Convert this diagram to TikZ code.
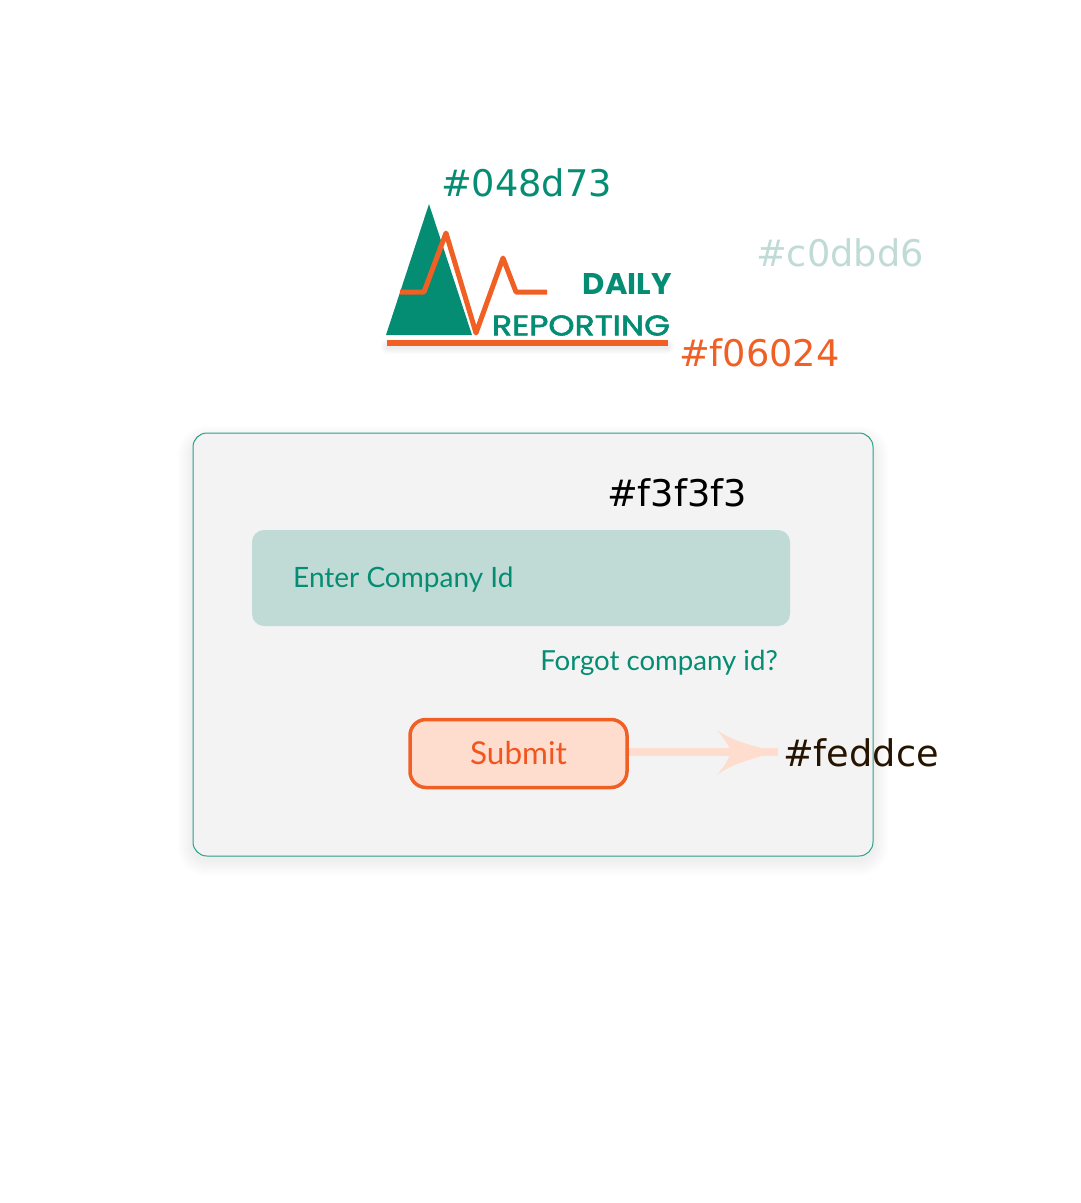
\documentclass[tikz,border=0pt]{standalone}
\usepackage{fontspec}
\setmainfont{DejaVu Sans}
\newfontfamily\uifont{Lato}
\newfontfamily\logofont{Poppins}
\usetikzlibrary{
    positioning
}
\definecolor{logogreen}{HTML}{048D73}
\definecolor{logoorange}{HTML}{F06024}
\definecolor{inputfill}{HTML}{C0DBD6}
\definecolor{cardfill}{HTML}{F3F3F3}
\definecolor{submitfill}{HTML}{FEDDCE}
\tikzset{
    swatch/.style={
        inner sep=0pt,
        font=\fontsize{36.7}{40}\selectfont,
        anchor=west
    },
    uitext/.style={
        inner sep=0pt,
        text=logogreen,
        font=\uifont\fontsize{28}{32}\selectfont
    },
    logotext/.style={
        inner sep=0pt,
        text=logogreen,
        font=\logofont
    }
}

\begin{document}
\begin{tikzpicture}[
    x=1pt,
    y=-1pt
]
    \useasboundingbox (0,0) rectangle (1080,1203);

    % Card
    \foreach \grow in {1,...,16}
        \fill[black, opacity=0.005, rounded corners=14+\grow]
            (193-\grow,441-\grow) rectangle (873+\grow,860+\grow);
    \fill[cardfill, rounded corners=14] (193,433) rectangle (873,856);

    % Logo
    \foreach \grow in {1,...,6}
        \fill[black, opacity=0.012, rounded corners=\grow]
            (387-\grow,345-\grow) rectangle (668+\grow,348+\grow);
    \fill[logogreen] (429,204) -- (472,335) -- (386,335) -- cycle;
    \draw[logoorange, line width=5pt, line join=round]
        (400,292) -- (424,292) -- (446,233) -- (476,333)
        -- (503,258) -- (516,292) -- (547,292);
    \fill[logoorange] (387,340) rectangle (668,346);
    \node[logotext, font=\logofont\bfseries] (daily) at (627.5,284)
        {\resizebox{89pt}{21pt}{DAILY}};
    \node[logotext, font=\logofont\addfontfeature{FakeBold=2}] (reporting) at (581,325.5)
        {\resizebox{178pt}{20pt}{REPORTING}};

    % Colours
    \node[swatch, text=logogreen]  (green)  at (441,183) {\#048d73};
    \node[swatch, text=inputfill]  (pale)   at (756,253) {\#c0dbd6};
    \node[swatch, text=logoorange] (orange) at (679,353) {\#f06024};
    \node[swatch, text=black]      (grey)   at (607,493) {\#f3f3f3};
    \node[swatch, text=black!85!orange] (peach) at (783,753) {\#feddce};

    % Form
    \node[fill=inputfill, rounded corners=12, minimum width=538pt,
        minimum height=96pt, inner sep=0pt] (input) at (521,578) {};
    \node[uitext, anchor=west] (enter) at (293,580) {Enter Company Id};
    \node[uitext, anchor=east, font=\uifont\fontsize{27.6}{32}\selectfont]
        (forgot) at (778,663) {Forgot company id?};
    \node[draw=logoorange, fill=submitfill, line width=3.5pt,
        rounded corners=16, minimum width=217pt, minimum height=68pt,
        inner sep=0pt, text=logoorange!90!red,
        font=\uifont\fontsize{31.5}{34}\selectfont] (submit) at (518.5,753.5) {Submit};

    % Arrow
    \coordinate (tip) at (778,752);
    \draw[submitfill, line width=8pt] (submit.east |- tip) -- (tip);
    \fill[submitfill] (tip) .. controls (752,746) and (730,740) .. (717,730)
        .. controls (725,740) and (730,746) .. (730,752)
        .. controls (730,758) and (725,765) .. (717,775)
        .. controls (730,765) and (752,758) .. (tip) -- cycle;

    % Card border
    \draw[logogreen!85!white, line width=1pt, rounded corners=14]
        (193,433) rectangle (873,856);

\end{tikzpicture}
\end{document}
